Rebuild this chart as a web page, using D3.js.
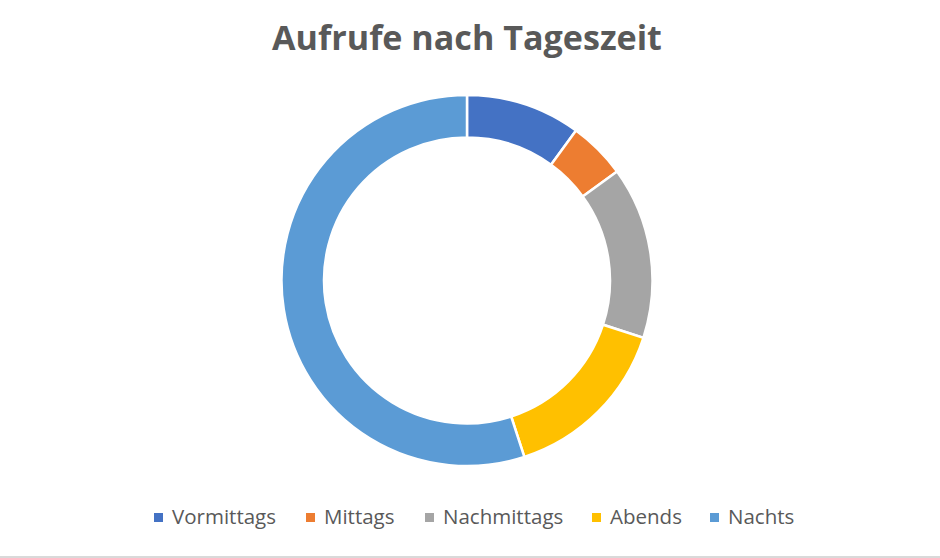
<!DOCTYPE html>
<html>
<head>
	<meta charset="utf-8">
	<script src="https://d3js.org/d3.v7.min.js"></script>
	<style>
		body { margin: 0; background: #fff; }
		svg { display: block; }
	</style>
</head>
<body>
	<svg width="940" height="558"></svg>
	<script>
		// Data
		const labels = ["Vormittags", "Mittags", "Nachmittags", "Abends", "Nachts"];
		const values = [10, 5, 15, 15, 55];
		const colors = ["#4472C4", "#ED7D31", "#A5A5A5", "#FFC000", "#5B9BD5"];
		const title = "Aufrufe nach Tageszeit";

		const data = labels.map((l, i) => ({label: l, value: values[i]}));

		const svg = d3.select("svg"),
			width = +svg.attr("width"),
			height = +svg.attr("height");

		// bottom border line
		svg.append("rect")
			.attr("x", 0).attr("y", height - 2)
			.attr("width", width).attr("height", 2)
			.attr("fill", "#d9d9d9");

		// title
		const t = svg.append("text")
			.attr("x", 467)
			.attr("y", 50)
			.attr("text-anchor", "middle")
			.attr("font-family", "'Open Sans', sans-serif")
			.attr("font-weight", "bold")
			.attr("font-size", 32)
			.attr("fill", "#595959")
			.text(title);
		// fit title width to the reference
		const tw = t.node().getComputedTextLength();
		t.attr("font-size", 32 * 390 / tw);

		// donut
		const cx = 467, cy = 280.5, outerR = 185.5, innerR = 143;
		const pie = d3.pie().sort(null).value(d => d.value);
		const arc = d3.arc().innerRadius(innerR).outerRadius(outerR);

		const g = svg.append("g").attr("transform", `translate(${cx},${cy})`);
		g.selectAll("path")
			.data(pie(data))
			.enter().append("path")
			.attr("d", arc)
			.attr("fill", (d, i) => colors[i])
			.attr("stroke", "#fff")
			.attr("stroke-width", 2.5);

		// legend
		const legendX = [154, 306, 425, 592, 710];
		const legend = svg.append("g");
		labels.forEach((l, i) => {
			legend.append("rect")
				.attr("x", legendX[i]).attr("y", 513)
				.attr("width", 9).attr("height", 9)
				.attr("fill", colors[i]);
			legend.append("text")
				.attr("x", legendX[i] + 18)
				.attr("y", 524)
				.attr("font-family", "'Open Sans', sans-serif")
				.attr("font-size", 20.5)
				.attr("fill", "#595959")
				.text(l);
		});
	</script>
</body>
</html>
